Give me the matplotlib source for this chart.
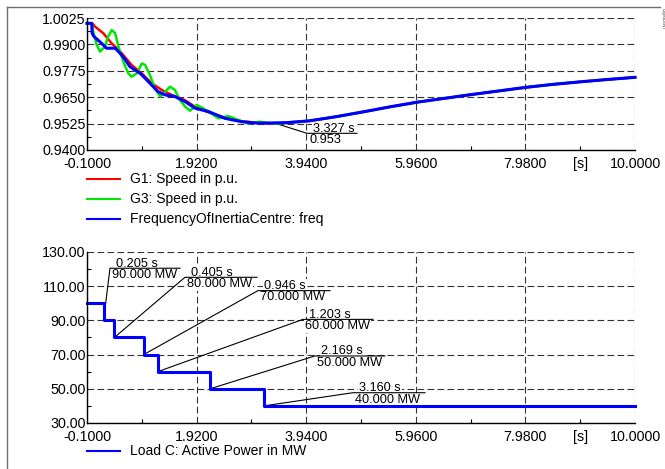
import matplotlib
matplotlib.use("Agg")
import matplotlib.pyplot as plt
from matplotlib.lines import Line2D
from matplotlib.ticker import FixedLocator, FixedFormatter, FormatStrFormatter

plt.rcParams["font.family"] = ["Liberation Sans", "DejaVu Sans"]

# --- data ---
# speed / frequency traces (p.u.), time in s
t_g1 = [-0.1, 0.0, 0.05, 0.2, 0.355, 0.54, 0.72, 0.91, 1.09, 1.28, 1.46, 1.71,
        1.89, 2.14, 2.44, 2.75, 3.06, 3.3, 3.6]
v_g1 = [1.0, 0.9999, 0.9984, 0.9953, 0.9905, 0.9858, 0.9803, 0.9763, 0.9716,
        0.9684, 0.9661, 0.9635, 0.9605, 0.9578, 0.9553, 0.9536, 0.9528, 0.9525, 0.9528]

t_g3 = [-0.1, -0.01, 0.016, 0.08, 0.14, 0.23, 0.29, 0.355, 0.42, 0.48, 0.57,
        0.66, 0.72, 0.82, 0.91, 0.97, 1.06, 1.15, 1.25, 1.34, 1.43, 1.52, 1.61,
        1.71, 1.80, 1.92, 2.04, 2.20, 2.32, 2.50, 2.69, 2.87, 3.09, 3.30, 3.49, 3.67]
v_g3 = [1.0, 1.0, 0.9960, 0.9897, 0.9866, 0.9889, 0.9937, 0.9968, 0.9953, 0.9889,
        0.9818, 0.9763, 0.9747, 0.9763, 0.9810, 0.9803, 0.9755, 0.9692, 0.9653,
        0.9676, 0.9700, 0.9684, 0.9637, 0.9605, 0.9586, 0.9613, 0.9598, 0.9571,
        0.9550, 0.9561, 0.9542, 0.9526, 0.9534, 0.9526, 0.9526, 0.9532]

t_coi = [-0.1, -0.013, -0.005, 0.03, 0.17, 0.26, 0.42, 0.51, 0.60, 0.69, 0.78,
         0.88, 0.97, 1.09, 1.21, 1.34, 1.52, 1.71, 1.89, 2.14, 2.44, 2.75, 3.06,
         3.3, 3.61]
v_coi = [1.0, 1.0, 0.9953, 0.9937, 0.9905, 0.9882, 0.9882, 0.9858, 0.9830, 0.9795,
         0.9779, 0.9763, 0.9740, 0.9708, 0.9676, 0.9661, 0.9653, 0.9629, 0.9598,
         0.9582, 0.9550, 0.9534, 0.9527, 0.9528, 0.9530]

# after ~3.6 s all three traces lie on top of each other
t_tail = [4.0, 4.5, 5.0, 5.5, 6.0, 6.5, 7.0, 7.5, 8.0, 8.5, 9.0, 9.5, 10.0]
v_tail = [0.9538, 0.9558, 0.9581, 0.9605, 0.9627, 0.9645, 0.9663, 0.9680,
          0.9697, 0.9711, 0.9723, 0.9734, 0.9744]

# load shedding steps (MW)
t_load = [-0.1, 0.205, 0.405, 0.946, 1.203, 2.169, 3.160, 10.0]
p_load = [100, 90, 80, 70, 60, 50, 40, 40]

# minimum marker on the frequency plot
min_t, min_v = 3.327, 0.953

x_ticks = [-0.1, 1.92, 3.94, 5.96, 7.98, 10.0]
x_minor = [0.91, 2.93, 4.95, 6.97, 8.99]
x_minor_labels = ["", "", "", "", "[s]"]
y_top_ticks = [0.94, 0.9525, 0.965, 0.9775, 0.99, 1.0025]
y_bot_ticks = [30, 50, 70, 90, 110, 130]

# where the step annotations sit: (underline start x, underline y, underline end x)
step_label_pos = [(0.324, 120.5, 1.614), (1.706, 115.2, 3.033), (3.05, 107.4, 4.38),
                  (3.88, 90.6, 5.17), (4.10, 69.2, 5.39), (4.80, 47.7, 6.13)]
min_label_pos = (3.955, 0.9479, 4.876)

RED, GREEN, BLUE = "#ff0000", "#00e600", "#0000ff"
GRID = "#333333"
TICK_FS = 10.3
ANN_FS = 9.2

fig = plt.figure(figsize=(6.65, 4.69), dpi=100)
ax1 = fig.add_axes([0.1308, 0.6802, 0.8241, 0.2814])
ax2 = fig.add_axes([0.1308, 0.0981, 0.8241, 0.3646])


def style_axes(ax, yticks, yfmt, yminor):
    ax.set_xlim(-0.1, 10.0)
    ax.set_ylim(yticks[0], yticks[-1])
    ax.xaxis.set_major_locator(FixedLocator(x_ticks))
    ax.xaxis.set_major_formatter(FormatStrFormatter("%.4f"))
    ax.xaxis.set_minor_locator(FixedLocator(x_minor))
    ax.xaxis.set_minor_formatter(FixedFormatter(x_minor_labels))
    ax.yaxis.set_major_locator(FixedLocator(yticks))
    ax.yaxis.set_major_formatter(FormatStrFormatter(yfmt))
    ax.yaxis.set_minor_locator(FixedLocator(yminor))
    for s in ("top", "right"):
        ax.spines[s].set_visible(False)
    for s in ("left", "bottom"):
        ax.spines[s].set_linewidth(1.0)
        ax.spines[s].set_zorder(8)
    ax.tick_params(which="both", direction="in", labelsize=TICK_FS, width=0.8)
    ax.tick_params(which="major", length=0)
    ax.tick_params(which="minor", length=3)
    ax.tick_params(axis="y", which="both", pad=1)
    ax.tick_params(axis="x", which="both", pad=5)
    ax.grid(True, which="major", color=GRID, linewidth=0.8, linestyle=(0, (6, 3)))
    ax.set_axisbelow(True)
    ax.set_facecolor("none")


top_minor = [(a + b) / 2 for a, b in zip(y_top_ticks[:-1], y_top_ticks[1:])]
bot_minor = [(a + b) / 2 for a, b in zip(y_bot_ticks[:-1], y_bot_ticks[1:])]
style_axes(ax1, y_top_ticks, "%.4f", top_minor)
style_axes(ax2, y_bot_ticks, "%.2f", bot_minor)


def label_pair(ax, top_txt, bottom_txt, anchor):
    x0, yu, x1 = anchor
    box = dict(boxstyle="square,pad=0.08", fc="white", ec="none")
    ax.annotate(top_txt, xy=(x0, yu), xytext=(4.5, 1.2), textcoords="offset points",
                fontsize=ANN_FS, ha="left", va="baseline", zorder=5, bbox=box)
    ax.annotate(bottom_txt, xy=(x0, yu), xytext=(1.5, -0.6), textcoords="offset points",
                fontsize=ANN_FS, ha="left", va="top", zorder=5, bbox=box)


# top plot: speeds and COI frequency
ax1.plot(t_g1 + t_tail, v_g1 + v_tail, color=RED, lw=1.8, zorder=7, clip_on=False)
ax1.plot(t_g3 + t_tail, v_g3 + v_tail, color=GREEN, lw=1.8, zorder=7.1, clip_on=False)
ax1.plot(t_coi + t_tail, v_coi + v_tail, color=BLUE, lw=2.2, zorder=7.2, clip_on=False)

x0, yu, x1 = min_label_pos
ax1.plot([min_t, x0, x1], [min_v, yu, yu], color="black", lw=0.8, zorder=6)
label_pair(ax1, f"{min_t:.3f} s", f"{min_v:.3f}", min_label_pos)

# bottom plot: load
ax2.plot(t_load, p_load, color=BLUE, lw=2.2, drawstyle="steps-post", zorder=7,
         clip_on=False)
for ts, ps, pos in zip(t_load[1:-1], p_load[1:-1], step_label_pos):
    x0, yu, x1 = pos
    ax2.plot([ts, x0, x1], [ps, yu, yu], color="black", lw=0.8, zorder=6)
    label_pair(ax2, f"{ts:.3f} s", f"{ps:.3f} MW", pos)

# legends (drawn by hand, like the original layout)
W, H = 665.0, 469.0


def legend_row(ypix, color, label):
    fig.add_artist(Line2D([87 / W, 120 / W], [1 - ypix / H, 1 - ypix / H],
                          color=color, lw=1.5))
    fig.text(130 / W, 1 - ypix / H, label, fontsize=10, va="center", ha="left")


legend_row(179.3, RED, "G1: Speed in p.u.")
legend_row(199.3, GREEN, "G3: Speed in p.u.")
legend_row(219.3, BLUE, "FrequencyOfInertiaCentre: freq")
legend_row(451.0, BLUE, "Load C: Active Power in MW")

# page frame (left and top edge) and the small vertical logo
fig.add_artist(Line2D([7 / W, 7 / W], [0, 1 - 7 / H], color="#707070", lw=1.0))
fig.add_artist(Line2D([7 / W, 660 / W], [1 - 7 / H, 1 - 7 / H], color="#707070", lw=1.0))
fig.text(663 / W, 1 - 8 / H, "DIgSILENT", rotation=-90, fontsize=3.2, ha="center",
         va="top", color="#333333")

fig.savefig("out.png", dpi=100)
